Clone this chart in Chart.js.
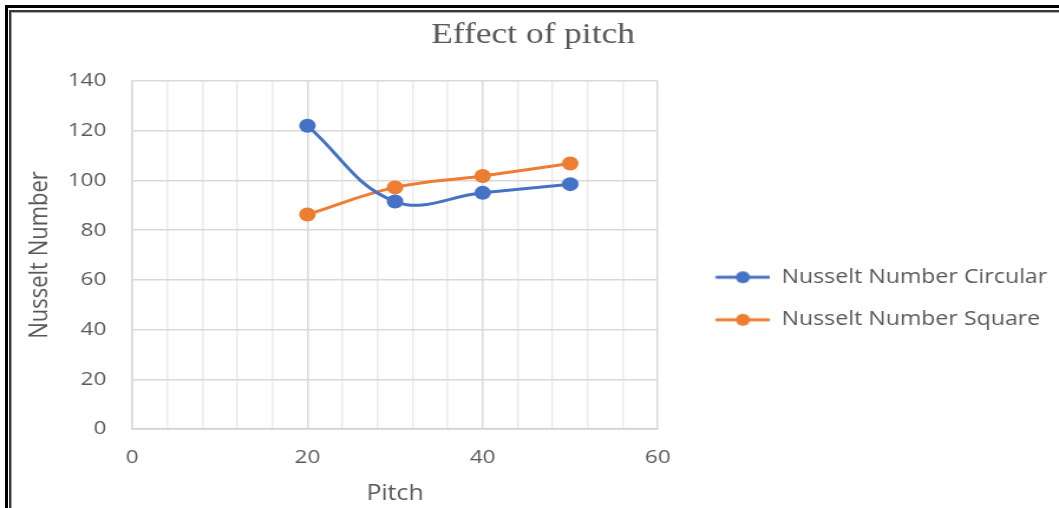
<!DOCTYPE html>
<html>
<head>
<meta charset="utf-8">
<script src="https://cdn.jsdelivr.net/npm/chart.js@4/dist/chart.umd.min.js"></script>
<style>
  html, body { margin: 0; padding: 0; background: #fff; overflow: hidden; }
  #wrap { position: relative; width: 1059px; height: 508px; overflow: hidden; }
  /* the drawing is laid out at 897px and widened to 1059px */
  #stage { position: absolute; left: 0; top: 0; width: 897px; height: 508px;
           transform: scaleX(1.18060); transform-origin: 0 0; }
  .frame { position: absolute; right: -20px; bottom: -20px; pointer-events: none; }
  #f1 { left: 5px; top: 5px; border-left: 3px solid #000; border-top: 3px solid #000; }
  #f2 { left: 9px; top: 10px; border-left: 2px solid #3a3a3a; border-top: 2px solid #3a3a3a; }
  #f3 { left: 11px; top: 12px; border-left: 1px solid #a8a8a8; border-top: 1px solid #a8a8a8; }
</style>
</head>
<body>
<div id="wrap">
  <div id="stage"><canvas id="c" width="897" height="508" style="width:897px;height:508px"></canvas></div>
  <div class="frame" id="f1"></div>
  <div class="frame" id="f2"></div>
  <div class="frame" id="f3"></div>
</div>
<script>
// Pitch values and Nusselt numbers for the two fin shapes
const pitch = [20, 30, 40, 50];
const nusseltCircular = [122, 91.5, 95, 98.5];
const nusseltSquare = [86.3, 97.2, 101.8, 106.8];
const seriesNames = ['Nusselt Number Circular', 'Nusselt Number Square'];
const seriesColors = ['#4472C4', '#ED7D31'];
const xLabelValues = [0, 20, 40, 60];
const yTicks = [0, 20, 40, 60, 80, 100, 120, 140];

const textColor = '#595959';
const sansFont = "'Open Sans', 'Noto Sans', sans-serif";

// Legend symbol: a short line with a dot in the middle, drawn on the right part of the slot
function legendSymbol(color) {
  const cv = document.createElement('canvas');
  cv.width = 72; cv.height = 14;
  const g = cv.getContext('2d');
  g.strokeStyle = color; g.lineWidth = 3; g.lineCap = 'round';
  g.beginPath(); g.moveTo(27, 7); g.lineTo(71, 7); g.stroke();
  g.fillStyle = color;
  g.beginPath(); g.arc(49, 7, 6, 0, Math.PI * 2); g.fill();
  return cv;
}

function toPoints(xs, ys) { return xs.map((x, i) => ({ x: x, y: ys[i] })); }

const datasets = [nusseltCircular, nusseltSquare].map((vals, i) => ({
  label: seriesNames[i],
  data: toPoints(pitch, vals),
  borderColor: seriesColors[i],
  backgroundColor: seriesColors[i],
  borderWidth: 3,
  pointRadius: 7,
  pointHoverRadius: 7,
  pointBorderWidth: 0,
  pointStyle: 'circle',
  tension: 0.4,
  legendImage: legendSymbol(seriesColors[i])
}));

new Chart(document.getElementById('c'), {
  type: 'line',
  data: { datasets: datasets },
  options: {
    responsive: false,
    animation: false,
    devicePixelRatio: 1,
    layout: { padding: { left: 6, right: 0, top: 4, bottom: 1 } },
    plugins: {
      title: {
        display: true,
        text: 'Effect of pitch',
        color: textColor,
        font: { family: "'Liberation Serif', 'DejaVu Serif', serif", size: 30, weight: 'normal' },
        padding: { top: 13, bottom: 28 }
      },
      legend: {
        position: 'right',
        align: 'center',
        maxWidth: 341,
        title: { display: true, text: ' ', font: { size: 2 }, padding: { top: 0, bottom: 83.6 } },
        labels: {
          usePointStyle: true,
          pointStyleWidth: 72,
          color: textColor,
          padding: 23,
          font: { family: sansFont, size: 19.6 },
          generateLabels: (chart) => chart.data.datasets.map((ds, i) => ({
            text: ds.label,
            pointStyle: ds.legendImage,
            fillStyle: ds.borderColor,
            strokeStyle: ds.borderColor,
            lineWidth: 0,
            fontColor: textColor,
            datasetIndex: i,
            hidden: false
          }))
        }
      },
      tooltip: { enabled: false }
    },
    scales: {
      x: {
        type: 'linear',
        min: xLabelValues[0],
        max: xLabelValues[xLabelValues.length - 1],
        ticks: {
          stepSize: 4,
          color: textColor,
          padding: 17,
          maxRotation: 0,
          font: { family: sansFont, size: 19 },
          callback: (v) => xLabelValues.includes(v) ? String(v) : ''
        },
        grid: {
          drawTicks: false,
          color: (ctx) => (ctx.tick && ctx.tick.value % 20 === 0) ? '#d9d9d9' : '#ebebeb',
          lineWidth: 1.5
        },
        border: { color: '#cfcfcf', width: 1.5 },
        title: {
          display: true,
          text: 'Pitch',
          color: textColor,
          font: { family: sansFont, size: 21 },
          padding: { top: -4, bottom: 0 }
        }
      },
      y: {
        min: yTicks[0],
        max: yTicks[yTicks.length - 1],
        afterBuildTicks: (scale) => { scale.ticks = yTicks.map(v => ({ value: v })); },
        ticks: {
          color: textColor,
          padding: 22,
          font: { family: sansFont, size: 19 }
        },
        grid: { drawTicks: false, color: '#d9d9d9', lineWidth: 1.5 },
        border: { color: '#d9d9d9', width: 1.5 },
        title: {
          display: true,
          text: 'Nusselt Number',
          color: textColor,
          font: { family: sansFont, size: 22 },
          padding: { top: 15, bottom: -12 }
        }
      }
    }
  }
});
</script>
</body>
</html>
